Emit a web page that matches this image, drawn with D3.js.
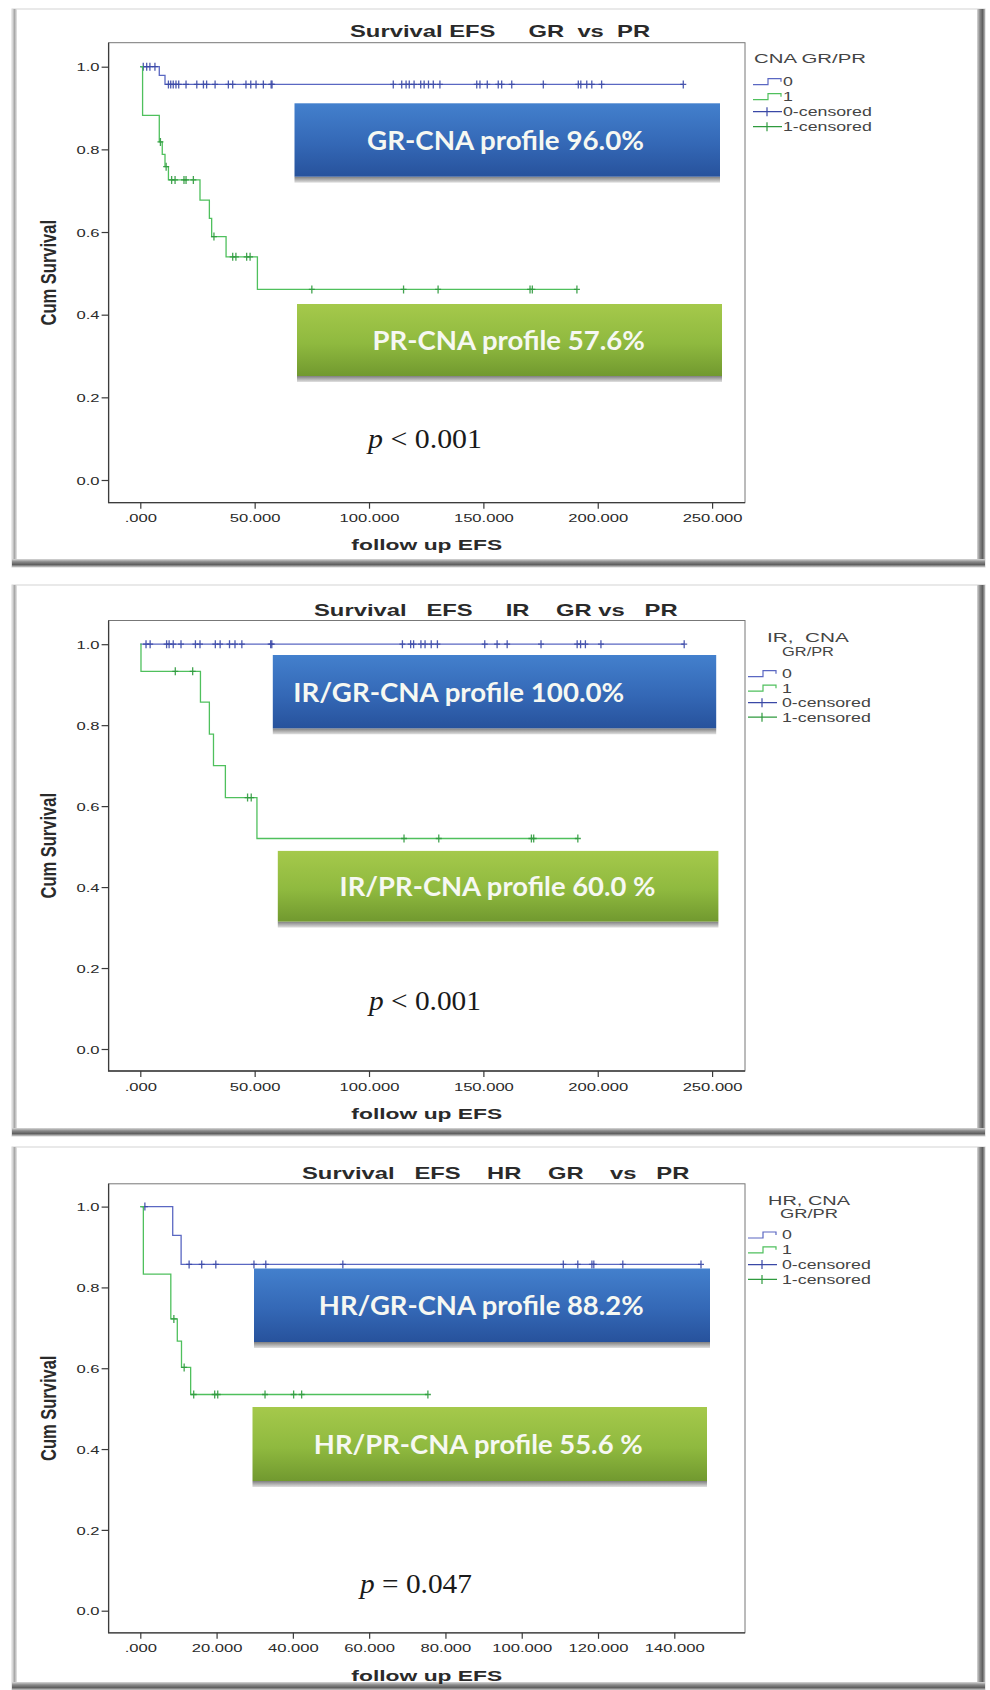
<!DOCTYPE html>
<html>
<head>
<meta charset="utf-8">
<script src="https://cdn.jsdelivr.net/npm/d3@7"></script>
<style>
html, body { margin: 0; padding: 0; background: #fff; }
svg { display: block; }
text { font-family: "Liberation Sans", Arial, sans-serif; }
text.boxlabel { font-family: Lato, "Open Sans", sans-serif; font-weight: 700; }
text.pval { font-family: "Liberation Serif", "DejaVu Serif", serif; }
</style>
</head>
<body>
<svg id="fig" width="990" height="1690"></svg>
<script>
// ---------- values ----------
const yTicks = [0, 0.2, 0.4, 0.6, 0.8, 1.0];
const yTickLabels = ["0.0", "0.2", "0.4", "0.6", "0.8", "1.0"];
const xTicksLong = [0, 50, 100, 150, 200, 250];
const xTickLabelsLong = [".000", "50.000", "100.000", "150.000", "200.000", "250.000"];
const xTicksShort = [0, 20, 40, 60, 80, 100, 120, 140];
const xTickLabelsShort = [".000", "20.000", "40.000", "60.000", "80.000", "100.000", "120.000", "140.000"];

const chartTitles = [
  "Survival EFS     GR  vs  PR",
  "Survival   EFS     IR    GR vs   PR",
  "Survival   EFS    HR    GR    vs   PR"
];
const legendTitles = [["CNA GR/PR"], ["IR,  CNA", "GR/PR"], ["HR, CNA", "GR/PR"]];
const legendLabels = ["0", "1", "0-censored", "1-censored"];
const xAxisTitle = "follow up EFS";
const yAxisTitle = "Cum Survival";

const labelsGR = ["GR-CNA profile 96.0%", "IR/GR-CNA profile 100.0%", "HR/GR-CNA profile 88.2%"];
const labelsPR = ["PR-CNA profile 57.6%", "IR/PR-CNA profile 60.0 %", "HR/PR-CNA profile 55.6 %"];
const pRelations = ["< 0.001", "< 0.001", "= 0.047"];

// Kaplan-Meier steps: [time, survival from that time on]
const stepsGR_all = [[0, 1], [8.3, 0.979], [10.8, 0.957]];
const endGR_all = 237.4;
const censorGR_all = [1.3, 2.8, 4.2, 6.4, 12.3, 13.3, 14.4, 15.6, 16.8, 20.0, 24.7, 27.6, 29.0, 32.7,
  38.5, 40.4, 46.2, 48.3, 50.6, 53.8, 57.2, 57.6, 110.6, 114.3, 116.2, 117.6, 119.7, 122.6, 124.1,
  126.0, 128.1, 131.0, 147.1, 148.5, 151.7, 156.5, 158.0, 162.4, 176.2, 191.5, 192.6, 195.2, 197.4,
  201.7, 237.4];

const stepsPR_all = [[0, 1], [1.0, 0.882], [8.3, 0.818], [9.6, 0.788], [10.8, 0.758], [12.3, 0.726],
  [26.1, 0.677], [30.2, 0.633], [31.2, 0.589], [37.5, 0.540], [51.2, 0.461]];
const endPR_all = 190.9;
const censorPR_all = [8.8, 11.3, 13.7, 15.2, 19.1, 20.0, 23.2, 32.2, 40.4, 41.8, 46.5, 48.0,
  75.0, 115.1, 130.2, 170.4, 171.4, 190.9];

const stepsGR_IR = [[0, 1]];
const endGR_IR = 237.8;
const censorGR_IR = [2.5, 4.3, 11.5, 12.6, 14.4, 17.8, 24.1, 26.1, 32.8, 34.9, 39.0, 41.4, 44.4,
  57.0, 57.5, 114.6, 118.2, 119.5, 122.7, 124.5, 127.2, 129.9, 150.6, 156.0, 160.4, 175.2, 191.0,
  192.5, 194.6, 201.4, 237.8];

const stepsPR_IR = [[0, 1], [0.3, 0.933], [26.3, 0.857], [30.2, 0.778], [32.0, 0.700], [37.2, 0.621], [51.0, 0.520]];
const endPR_IR = 191.3;
const censorPR_IR = [15.3, 22.9, 46.9, 48.5, 115.3, 130.5, 171.0, 172.0, 191.3];

const stepsGR_HR = [[0, 1], [8.5, 0.929], [10.7, 0.857]];
const endGR_HR = 147.0;
const censorGR_HR = [1.2, 12.8, 16.1, 19.8, 29.8, 32.9, 53.1, 110.9, 114.7, 118.4, 118.9, 126.5, 147.0];

const stepsPR_HR = [[0, 1], [0.8, 0.833], [8.0, 0.722], [9.7, 0.667], [10.8, 0.602], [13.2, 0.535]];
const endPR_HR = 75.4;
const censorPR_HR = [8.8, 11.5, 14.0, 19.5, 20.3, 32.7, 40.2, 42.3, 75.4];

// ---------- layout ----------
const panels = [
  {
    frame: {y0: 9, y1: 567},
    plot: {x0: 108.6, x1: 745, y0: 42.7, y1: 502.7},
    xMax: 250, xAt0: 140.3, xAtMax: 712.1, yAt0: 480, yAt1: 66.7,
    xTicks: xTicksLong, xLabels: xTickLabelsLong,
    titleX: 350, titleY: 37,
    legend: {glyphX: 753, labelX: 783, titleAnchor: "start", titleX: 754, titleY: [63.3], titleW: [112], itemY: 81.7, dy: 15},
    boxGR: {x0: 294.5, x1: 720, y0: 103.3, y1: 176.7, tx: 367, tw: 277},
    boxPR: {x0: 297, x1: 722, y0: 304, y1: 376, tx: 372.5, tw: 272.5},
    p: {x: 368, y: 448.3, w: 114},
    gr: {steps: stepsGR_all, end: endGR_all, cens: censorGR_all},
    pr: {steps: stepsPR_all, end: endPR_all, cens: censorPR_all}
  },
  {
    frame: {y0: 585, y1: 1136},
    plot: {x0: 108.6, x1: 745, y0: 620.5, y1: 1071},
    xMax: 250, xAt0: 140.3, xAtMax: 712.1, yAt0: 1049, yAt1: 644.2,
    xTicks: xTicksLong, xLabels: xTickLabelsLong,
    titleX: 314, titleY: 616,
    legend: {glyphX: 748, labelX: 782, titleAnchor: "middle", titleX: 808, titleY: [641.5, 655.7], titleW: [82, 52], itemY: 673.7, dy: 14.5},
    boxGR: {x0: 272.8, x1: 716.2, y0: 655, y1: 728.3, tx: 293.3, tw: 331},
    boxPR: {x0: 277.8, x1: 718.4, y0: 850.9, y1: 921.6, tx: 339.6, tw: 316},
    p: {x: 369, y: 1009.7, w: 112},
    gr: {steps: stepsGR_IR, end: endGR_IR, cens: censorGR_IR},
    pr: {steps: stepsPR_IR, end: endPR_IR, cens: censorPR_IR}
  },
  {
    frame: {y0: 1147, y1: 1690},
    plot: {x0: 108.6, x1: 745, y0: 1183.8, y1: 1632.8},
    xMax: 140, xAt0: 140.3, xAtMax: 674.3, yAt0: 1610.7, yAt1: 1206.6,
    xTicks: xTicksShort, xLabels: xTickLabelsShort,
    titleX: 302, titleY: 1178.5,
    legend: {glyphX: 748, labelX: 782, titleAnchor: "middle", titleX: 809, titleY: [1205, 1218.3], titleW: [82, 58], itemY: 1235, dy: 14.8},
    boxGR: {x0: 254, x1: 710, y0: 1268.5, y1: 1342, tx: 318.8, tw: 325},
    boxPR: {x0: 252.5, x1: 707, y0: 1407, y1: 1481, tx: 313.8, tw: 329},
    p: {x: 360, y: 1592.5, w: 112},
    gr: {steps: stepsGR_HR, end: endGR_HR, cens: censorGR_HR},
    pr: {steps: stepsPR_HR, end: endPR_HR, cens: censorPR_HR}
  }
];

const COL = {
  gr: "#5a67c2", grMark: "#3a48a6",
  pr: "#4fc05d", prMark: "#2f9a3e",
  axis: "#3c3c3c", tick: "#3a3a3a", text: "#2a2a2a", legend: "#444"
};

const fig = d3.select("#fig");
const defs = fig.append("defs");

function vGrad(id, stops, horizontal) {
  const g = defs.append("linearGradient").attr("id", id)
    .attr("x1", 0).attr("y1", 0).attr("x2", horizontal ? 1 : 0).attr("y2", horizontal ? 0 : 1);
  stops.forEach(([o, c]) => g.append("stop").attr("offset", o).attr("stop-color", c));
}
vGrad("gBlue", [[0, "#4380cd"], [0.55, "#3468b6"], [1, "#27529c"]]);
vGrad("gGreen", [[0, "#a5c94b"], [0.55, "#8fb93f"], [1, "#71992f"]]);
vGrad("gShadow", [[0, "#7f7f7f"], [1, "#e0e0e0"]]);
vGrad("gEdgeR", [[0, "#d8d8d8"], [0.35, "#8a8a8a"], [0.7, "#5f5f5f"], [1, "#b8b8b8"]], true);
vGrad("gEdgeB", [[0, "#d8d8d8"], [0.35, "#8a8a8a"], [0.7, "#5f5f5f"], [1, "#c8c8c8"]]);
vGrad("gEdgeL", [[0, "#e4e4e4"], [0.5, "#a8a8a8"], [1, "#e8e8e8"]], true);

// horizontal stretch of a text element about its anchor point
function place(sel, x, y, k) {
  sel.attr("x", 0).attr("y", 0)
    .attr("transform", `translate(${x},${y}) scale(${k},1)`);
  return sel;
}
function fitWidth(sel, x, y, w) {
  const natural = sel.node().getComputedTextLength();
  return place(sel, x, y, w / natural);
}

function survivalAt(steps, t) {
  let s = steps[0][1];
  for (const [ti, si] of steps) if (ti <= t) s = si;
  return s;
}

panels.forEach((P, i) => {
  const g = fig.append("g");
  const FX0 = 12, FX1 = 985;

  // ---- panel frame with bevelled edges ----
  g.append("rect").attr("x", FX0).attr("y", P.frame.y0)
    .attr("width", FX1 - FX0).attr("height", P.frame.y1 - P.frame.y0)
    .attr("fill", "#fff").attr("stroke", "#d4d4d4").attr("stroke-width", 1);
  g.append("rect").attr("x", FX0).attr("y", P.frame.y0)
    .attr("width", 5).attr("height", P.frame.y1 - P.frame.y0).attr("fill", "url(#gEdgeL)");
  g.append("rect").attr("x", FX1 - 8).attr("y", P.frame.y0)
    .attr("width", 8).attr("height", P.frame.y1 - P.frame.y0).attr("fill", "url(#gEdgeR)");
  g.append("rect").attr("x", FX0).attr("y", P.frame.y1 - 8)
    .attr("width", FX1 - FX0).attr("height", 8).attr("fill", "url(#gEdgeB)");

  // ---- scales ----
  const x = d3.scaleLinear().domain([0, P.xMax]).range([P.xAt0, P.xAtMax]);
  const y = d3.scaleLinear().domain([0, 1]).range([P.yAt0, P.yAt1]);
  const pl = P.plot;

  // ---- plot box ----
  g.append("rect").attr("x", pl.x0).attr("y", pl.y0)
    .attr("width", pl.x1 - pl.x0).attr("height", pl.y1 - pl.y0)
    .attr("fill", "#fff").attr("stroke", "#777").attr("stroke-width", 1);
  g.append("path")
    .attr("d", `M${pl.x0},${pl.y0}V${pl.y1}H${pl.x1}`)
    .attr("fill", "none").attr("stroke", COL.axis).attr("stroke-width", 1.3);

  // ---- axes ----
  const yAxis = d3.axisLeft(y).tickValues(yTicks).tickSize(7).tickFormat((d, j) => yTickLabels[j]);
  const ya = g.append("g").attr("transform", `translate(${pl.x0},0)`).call(yAxis);
  ya.select(".domain").remove();
  ya.selectAll("line").attr("stroke", COL.tick).attr("stroke-width", 1.2);
  ya.selectAll("text").each(function () {
    const t = d3.select(this);
    t.attr("font-size", 11.6).attr("fill", COL.text).attr("text-anchor", "end").attr("dy", null);
    place(t, 99.5 - pl.x0, 4.2, 1.43);
  });

  const xAxis = d3.axisBottom(x).tickValues(P.xTicks).tickSize(6).tickFormat((d, j) => P.xLabels[j]);
  const xa = g.append("g").attr("transform", `translate(0,${pl.y1})`).call(xAxis);
  xa.select(".domain").remove();
  xa.selectAll("line").attr("stroke", COL.tick).attr("stroke-width", 1.2);
  xa.selectAll("text").each(function () {
    const t = d3.select(this);
    t.attr("font-size", 11.6).attr("fill", COL.text).attr("text-anchor", "middle").attr("dy", null);
    place(t, 0, 19.5, 1.43);
  });

  // ---- axis titles ----
  const xt = g.append("text").text(xAxisTitle).attr("font-size", 15).attr("font-weight", "bold")
    .attr("fill", COL.text).attr("text-anchor", "middle");
  fitWidth(xt, (pl.x0 + pl.x1) / 2, pl.y1 + 47.7, 151);

  g.append("text").text(yAxisTitle).attr("font-size", 16.5).attr("font-weight", "bold")
    .attr("fill", COL.text).attr("text-anchor", "middle")
    .attr("transform", `translate(56,${(pl.y0 + pl.y1) / 2}) scale(1.35,1) rotate(-90)`);

  // ---- chart title ----
  const tt = g.append("text").text(chartTitles[i]).attr("font-size", 17).attr("font-weight", "bold")
    .attr("fill", COL.text).style("white-space", "pre");
  place(tt, P.titleX, P.titleY, 1.4);

  // ---- survival curves ----
  const line = d3.line().x(d => x(d[0])).y(d => y(d[1])).curve(d3.curveStepAfter);
  [["gr", COL.gr, COL.grMark], ["pr", COL.pr, COL.prMark]].forEach(([key, c, cm]) => {
    const S = P[key];
    const pts = S.steps.concat([[S.end, S.steps[S.steps.length - 1][1]]]);
    g.append("path").attr("d", line(pts)).attr("fill", "none")
      .attr("stroke", c).attr("stroke-width", 1.3);
    g.append("g").selectAll("path").data(S.cens).join("path")
      .attr("d", t => {
        const cx = x(t), cy = y(survivalAt(S.steps, t));
        return `M${cx - 3},${cy}H${cx + 3}M${cx},${cy - 4}V${cy + 4}`;
      })
      .attr("fill", "none").attr("stroke", cm).attr("stroke-width", 1.3).attr("opacity", 0.9);
  });

  // ---- legend ----
  const L = P.legend;
  legendTitles[i].forEach((s, j) => {
    const lt = g.append("text").text(s).attr("font-size", 13.5).attr("fill", COL.legend)
      .attr("text-anchor", L.titleAnchor).style("white-space", "pre");
    fitWidth(lt, L.titleX, L.titleY[j], L.titleW[j]);
  });
  legendLabels.forEach((lab, j) => {
    const cy = L.itemY + j * L.dy;
    const isGR = j % 2 === 0;
    const c = isGR ? COL.gr : COL.pr;
    const gx0 = L.glyphX, gx1 = L.glyphX + 29;
    if (j < 2) {
      const mx = gx0 + 15;
      g.append("path").attr("d", `M${gx0},${cy + 3}H${mx}V${cy - 3}H${gx1 - 1}V${cy}`)
        .attr("fill", "none").attr("stroke", c).attr("stroke-width", 1.2);
    } else {
      const mx = gx0 + 14;
      g.append("path").attr("d", `M${gx0},${cy}H${gx1}M${mx},${cy - 4.5}V${cy + 4.5}`)
        .attr("fill", "none").attr("stroke", isGR ? COL.grMark : COL.prMark).attr("stroke-width", 1.2);
    }
    const t = g.append("text").text(lab).attr("font-size", 12).attr("fill", COL.legend);
    place(t, L.labelX, cy + 4.3, 1.48);
  });

  // ---- annotation boxes ----
  [["boxGR", "url(#gBlue)", labelsGR[i]], ["boxPR", "url(#gGreen)", labelsPR[i]]].forEach(([k, fill, lab]) => {
    const B = P[k];
    g.append("rect").attr("x", B.x0).attr("y", B.y1)
      .attr("width", B.x1 - B.x0).attr("height", 6).attr("fill", "url(#gShadow)");
    g.append("rect").attr("x", B.x0).attr("y", B.y0)
      .attr("width", B.x1 - B.x0).attr("height", B.y1 - B.y0).attr("fill", fill);
    const t = g.append("text").attr("class", "boxlabel").text(lab)
      .attr("font-size", 27.5).attr("fill", "#f6f8f2");
    fitWidth(t, B.tx, (B.y0 + B.y1) / 2 + 10, B.tw);
  });

  // ---- p-value ----
  const pt = g.append("text").attr("class", "pval")
    .attr("font-size", 27.5).attr("fill", "#1a1a1a");
  pt.append("tspan").attr("font-style", "italic").text("p");
  pt.append("tspan").text(" " + pRelations[i]);
  fitWidth(pt, P.p.x, P.p.y, P.p.w);
});
</script>
</body>
</html>
